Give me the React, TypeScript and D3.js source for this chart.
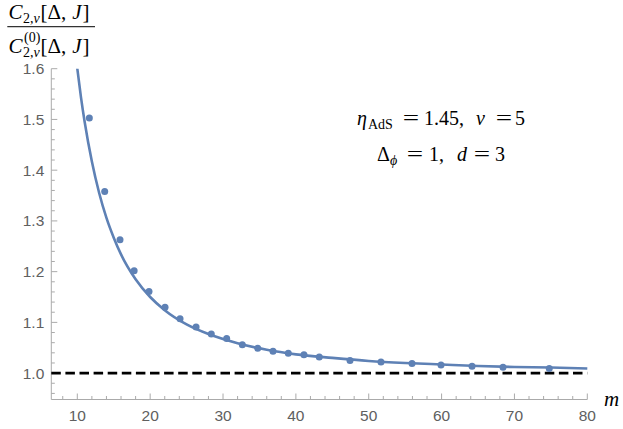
import React from 'react';
import * as d3 from 'd3';

// Data points (m, ratio)
const pointM = [11.65, 13.76, 15.86, 17.8, 19.84, 22.04, 24.1, 26.3, 28.39, 30.5, 32.65, 34.76, 36.86, 38.96, 41.11, 43.21, 47.43, 51.68, 55.94, 59.92, 64.18, 68.43, 74.78];
const pointRatio = [1.503, 1.358, 1.263, 1.202, 1.161, 1.130, 1.107, 1.091, 1.077, 1.068, 1.056, 1.049, 1.043, 1.039, 1.036, 1.032, 1.025, 1.022, 1.019, 1.016, 1.0135, 1.0115, 1.009];

// Fitted curve samples (m, ratio)
const curveM = [9.9, 10, 10.5, 11, 12, 13, 14, 15, 16, 18, 20, 22, 25, 28, 32, 36, 40, 45, 50, 55, 60, 65, 70, 75, 80];
const curveRatio = [1.612, 1.600, 1.544, 1.496, 1.417, 1.355, 1.306, 1.267, 1.234, 1.185, 1.150, 1.124, 1.096, 1.077, 1.059, 1.046, 1.037, 1.030, 1.024, 1.020, 1.017, 1.014, 1.012, 1.011, 1.009];

const xMajorTicks = [10, 20, 30, 40, 50, 60, 70, 80];
const yMajorTicks = [1.0, 1.1, 1.2, 1.3, 1.4, 1.5, 1.6];
const referenceLevel = 1.0;

const W = 623, H = 429;
const X0 = 51.3, X1 = 587.3, Y0 = 399.5, Y1 = 68.7;

function Eq({ cx, y, size }: { cx: number; y: number; size: number }) {
  return (
    <text transform={`translate(${cx},${y}) scale(1.45,1)`} textAnchor="middle" fontSize={size}>=</text>
  );
}

export default function App() {
  const x = d3.scaleLinear().domain([6.43, 80]).range([X0, X1]);
  const y = d3.scaleLinear().domain([0.948, 1.6]).range([Y0, Y1]);

  const xMinor = d3.range(8, 80.001, 2).filter(v => !xMajorTicks.some(t => Math.abs(t - v) < 1e-6));
  const yMinor = d3.range(0.96, 1.6001, 0.02).filter(v => !yMajorTicks.some(t => Math.abs(t - v) < 1e-6));

  const curveData = curveM.map((m, i) => [m, curveRatio[i]] as [number, number]);
  const line = d3.line<[number, number]>().x(d => x(d[0])).y(d => y(d[1])).curve(d3.curveMonotoneX);

  const axisColor = '#aaaaaa';
  const labelColor = '#606060';
  const blue = '#5E81B5';
  const serif = '"Liberation Serif", "Times New Roman", serif';
  const sans = '"Liberation Sans", Arial, sans-serif';

  return (
    <svg width={W} height={H} style={{ position: 'absolute', left: 0, top: 0, background: '#fff' }}>
      <defs>
        <clipPath id="plotclip">
          <rect x={X0} y={Y1} width={X1 - X0 + 2} height={Y0 - Y1} />
        </clipPath>
      </defs>

      {/* axes */}
      <line x1={X0} x2={X1} y1={Y0} y2={Y0} stroke={axisColor} strokeWidth={1} />
      <line x1={X0} x2={X0} y1={Y0} y2={Y1} stroke={axisColor} strokeWidth={1} />

      {xMajorTicks.map(t => (
        <g key={'xt' + t}>
          <line x1={x(t)} x2={x(t)} y1={Y0} y2={Y0 - 6} stroke={axisColor} />
          <text x={x(t)} y={Y0 + 21} textAnchor="middle" fontFamily={sans} fontSize={15.5} fill={labelColor}>{t}</text>
        </g>
      ))}
      {xMinor.map(t => (
        <line key={'xm' + t} x1={x(t)} x2={x(t)} y1={Y0} y2={Y0 - 3.5} stroke={axisColor} />
      ))}
      {yMajorTicks.map(t => (
        <g key={'yt' + t}>
          <line x1={X0} x2={X0 + 6} y1={y(t)} y2={y(t)} stroke={axisColor} />
          <text x={X0 - 7} y={y(t) + 5.5} textAnchor="end" fontFamily={sans} fontSize={15.5} fill={labelColor}>{t.toFixed(1)}</text>
        </g>
      ))}
      {yMinor.map(t => (
        <line key={'ym' + t.toFixed(2)} x1={X0} x2={X0 + 3.5} y1={y(t)} y2={y(t)} stroke={axisColor} />
      ))}

      {/* reference dashed line */}
      <line x1={X0} x2={X1} y1={y(referenceLevel)} y2={y(referenceLevel)} stroke="#000" strokeWidth={2.8} strokeDasharray="9.5,4.6" />

      {/* curve */}
      <path d={line(curveData) || ''} fill="none" stroke={blue} strokeWidth={2.6} clipPath="url(#plotclip)" />

      {/* points */}
      {pointM.map((m, i) => (
        <circle key={'p' + i} cx={x(m)} cy={y(pointRatio[i])} r={3.5} fill={blue} />
      ))}

      {/* x axis label */}
      <text x={604} y={406} fontFamily={serif} fontStyle="italic" fontSize={21} fill="#000">m</text>

      {/* y axis label: fraction */}
      <g fontFamily={serif} fill="#000">
        <text x={8.5} y={19.3} fontSize={21} fontStyle="italic">C</text>
        <text x={23} y={23} fontSize={14}>2,<tspan fontStyle="italic">ν</tspan></text>
        <text x={40.5} y={19.3} fontSize={21}>[Δ,<tspan dx={6} fontStyle="italic">J</tspan><tspan dx={1}>]</tspan></text>
        <line x1={7.3} x2={95} y1={26.7} y2={26.7} stroke="#333" strokeWidth={1.3} />
        <text x={8.5} y={52.7} fontSize={21} fontStyle="italic">C</text>
        <text x={24} y={42} fontSize={14}>(0)</text>
        <text x={23} y={57} fontSize={14}>2,<tspan fontStyle="italic">ν</tspan></text>
        <text x={40.5} y={52.7} fontSize={21}>[Δ,<tspan dx={6} fontStyle="italic">J</tspan><tspan dx={1}>]</tspan></text>
      </g>

      {/* annotation */}
      <g fontFamily={serif} fill="#000" fontSize={20}>
        <text x={357} y={125} fontStyle="italic">η</text>
        <text x={368} y={129} fontSize={14}>AdS</text>
        <Eq cx={411} y={125} size={20} />
        <text x={424} y={125}>1.45,</text>
        <text x={476} y={125} fontStyle="italic">ν</text>
        <Eq cx={504} y={125} size={20} />
        <text x={515} y={125}>5</text>

        <text x={377} y={161}>Δ</text>
        <text x={390} y={165} fontSize={14} fontStyle="italic">ϕ</text>
        <Eq cx={415} y={161} size={20} />
        <text x={429} y={161}>1,</text>
        <text x={457} y={161} fontStyle="italic">d</text>
        <Eq cx={482} y={161} size={20} />
        <text x={495} y={161}>3</text>
      </g>
    </svg>
  );
}
